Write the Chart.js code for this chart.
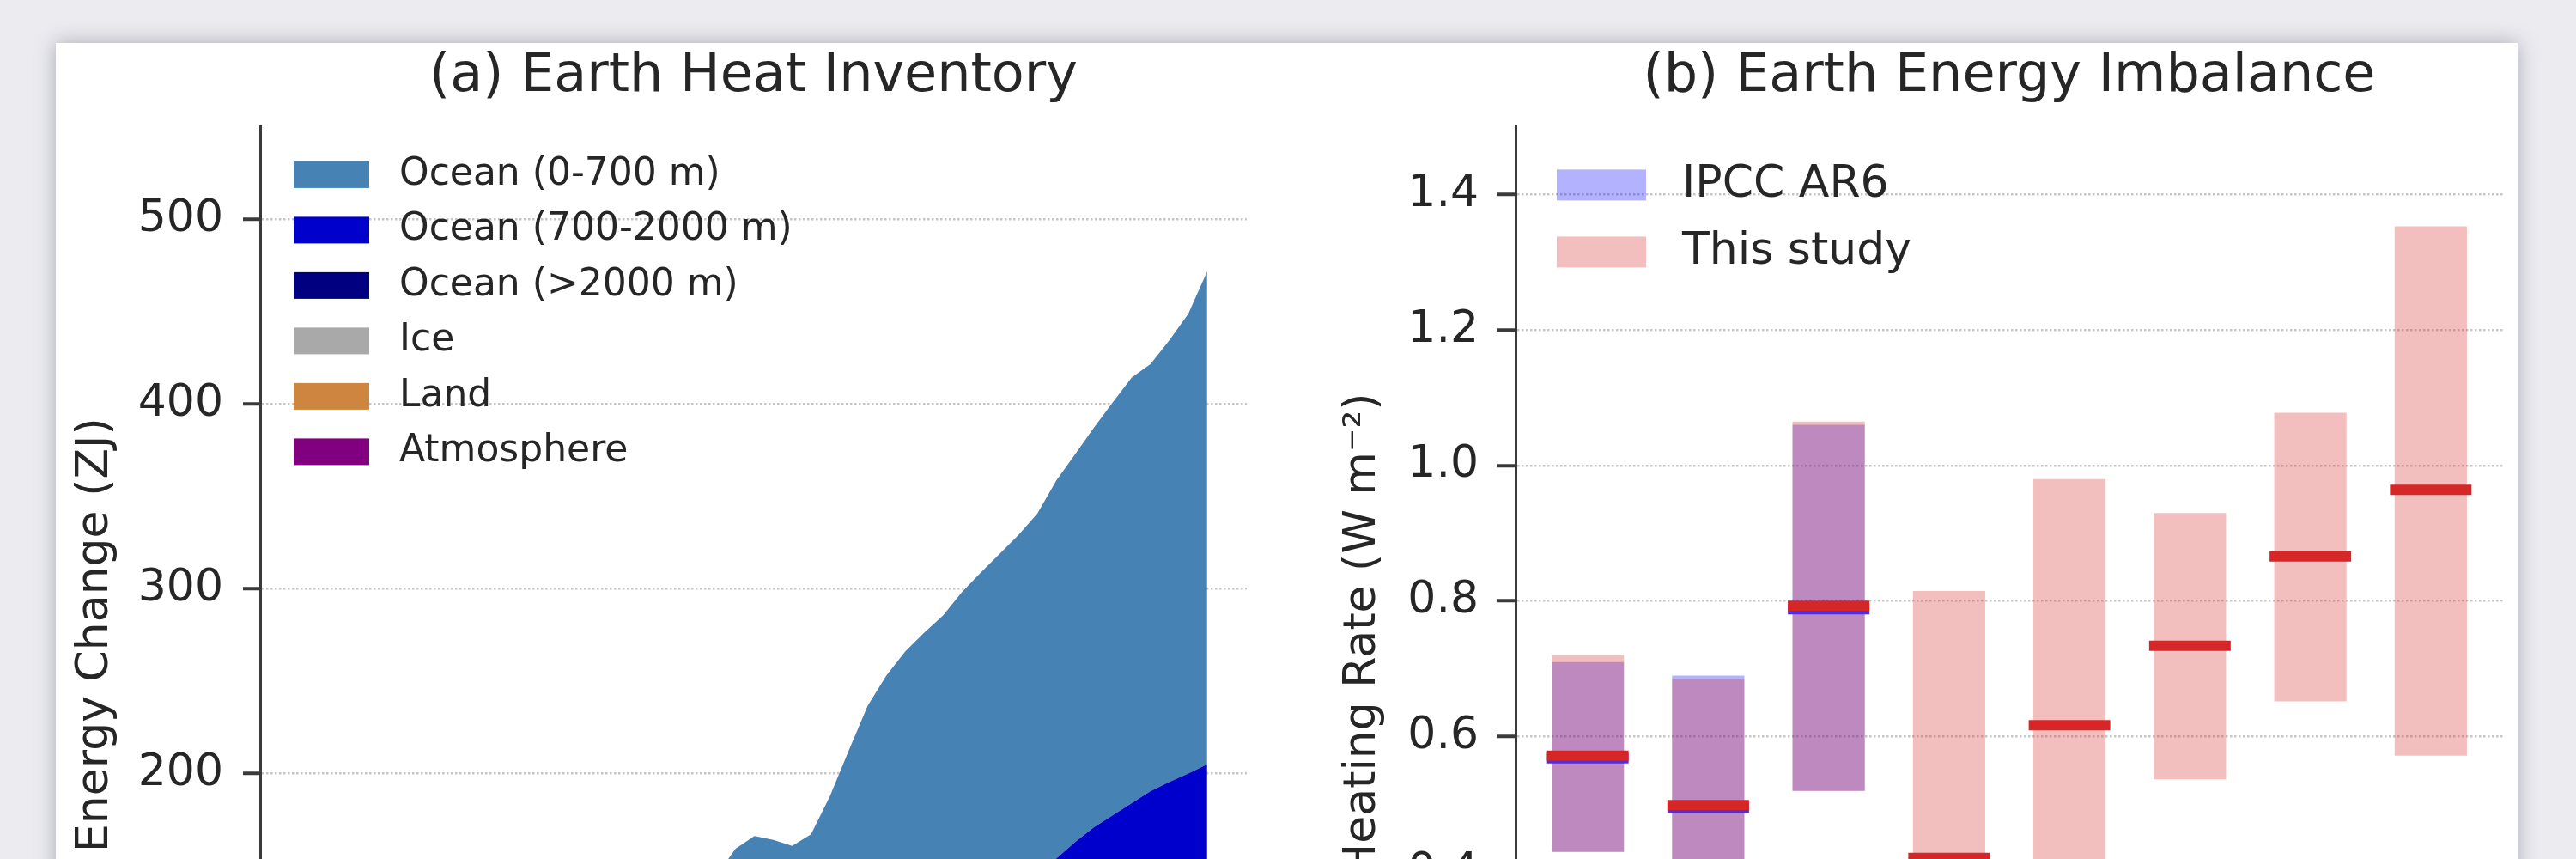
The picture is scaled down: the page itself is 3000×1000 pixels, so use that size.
<!DOCTYPE html>
<html>
<head>
<meta charset="utf-8">
<script src="https://cdn.jsdelivr.net/npm/chart.js"></script>
<style>
  html, body { margin: 0; padding: 0; }
  body { width: 3000px; height: 1000px; overflow: hidden; background: #ebebf0; position: relative; }
  .card { position: absolute; left: 65px; top: 50px; width: 2867px; height: 1200px; background: #fff;
          box-shadow: 0 0 22px rgba(50, 50, 70, 0.35); }
  .panel { position: absolute; top: 0; }
  #left { left: 0; }
  #right { left: 1450px; }
</style>
</head>
<body>
<div class="card"></div>
<div class="panel" id="left"><canvas id="heatChart" width="1550" height="1400"></canvas></div>
<div class="panel" id="right"><canvas id="eeiChart" width="1550" height="1400"></canvas></div>
<script>
// ---- panel (a): heat inventory, ZJ per layer (stacked) ----
const years = [1971,1972,1973,1974,1975,1976,1977,1978,1979,1980,
               1981,1982,1983,1984,1985,1986,1987,1988,1989,1990,
               1991,1992,1993,1994,1995,1996,1997,1998,1999,2000,
               2001,2002,2003,2004,2005,2006,2007,2008,2009,2010,
               2011,2012,2013,2014,2015,2016,2017,2018,2019,2020]
const atmosphere = [0,0,0,0,1,1,1,1,1,1, 1,1,1,2,2,2,2,2,2,2, 2,2,3,3,3,3,3,3,3,3,
                    3,4,4,4,4,4,4,4,4,5, 5,5,5,5,5,5,5,6,6,6]
const land = [0,0,1,1,2,2,2,3,3,4, 4,5,5,5,6,6,7,7,8,8, 9,9,10,10,11,11,12,12,13,13,
              14,14,15,15,16,16,17,17,18,18, 19,19,20,20,21,21,22,22,23,24]
const ice = [0,0,1,1,1,1,2,2,2,2, 3,3,3,3,4,4,4,5,5,5, 6,6,6,7,7,7,8,8,8,9,
             9,9,10,10,10,11,11,12,12,13, 13,14,14,15,15,16,16,17,17,18]
const oceanDeep = [0,1,1,2,3,3,4,5,5,6, 7,7,8,9,10,10,11,12,12,13, 14,15,15,16,17,18,18,19,20,21,
                   21,22,23,24,24,25,26,27,28,28, 29,30,31,32,32,33,34,35,36,37]
const oceanMid = [0,1,1,2,2,3,4,5,8,9, 10,12,15,16,17,21,23,25,28,32, 33,37,40,42,45,49,52,56,59,62,
                  66,68,69,72,75,76,77,78,79,80, 81,86,93,99,104.5,109,113.5,115.5,118,120]
const oceanUpper = [0,3,5,9,11,14,17,20,22,25, 28,30,32,35,37,39,41,44,46,48, 51,55,60,67,76.4,78.2,71.2,62.9,64.2,79.7,
                    99.5,119.6,132.1,141.1,147.3,153.5,163.2,170.8,177.9,185.1,
                    193.7,204.5,209.8,216.2,223.4,230.3,231.1,239,248.8,266.6]

// ---- panel (b): energy imbalance ranges, W m-2 ----
const slots = [0,1,2,3,4,5,6,7]
const ipccLow = [0.43, 0.32, 0.52]
const ipccHigh = [0.71, 0.69, 1.06]
const ipccMid = [0.568, 0.495, 0.788]
const studyLow = [0.43, 0.32, 0.52, 0.03, 0.255, 0.537, 0.652, 0.572]
const studyHigh = [0.72, 0.685, 1.065, 0.815, 0.98, 0.93, 1.078, 1.353]
const studyMid = [0.572, 0.499, 0.793, 0.421, 0.617, 0.734, 0.866, 0.964]

Chart.defaults.font.family = '"DejaVu Sans", sans-serif'
Chart.defaults.color = '#262626'

// legend drawn inside the plot, matplotlib style
const boxLegend = {
  id: 'boxLegend',
  afterDraw(chart, args, opts) {
    const ctx = chart.ctx
    const area = chart.chartArea
    ctx.save()
    ctx.font = opts.fontSize + 'px "DejaVu Sans"'
    ctx.textBaseline = 'middle'
    ctx.textAlign = 'left'
    opts.order.forEach((di, row) => {
      const ds = chart.data.datasets[di]
      const x = area.left + opts.left
      const y = area.top + opts.top + row * opts.step
      ctx.fillStyle = ds.backgroundColor
      ctx.fillRect(x, y - opts.boxH / 2, opts.boxW, opts.boxH)
      ctx.fillStyle = '#262626'
      ctx.fillText(ds.label, x + opts.boxW + opts.gap, y)
    })
    ctx.restore()
  }
}

function gridY(width) {
  return {
    grid: { color: 'rgba(160,160,160,0.6)', lineWidth: 2.5, tickColor: '#3a3a3a', tickWidth: 4, tickLength: 20 },
    border: { display: true, color: '#3a3a3a', width: 3, dash: [2.5, 2.5] },
    afterFit: (s) => { s.width = width }
  }
}

function layer(label, values, color, fill) {
  return {
    label: label,
    data: years.map((yr, i) => ({ x: yr, y: values[i] })),
    backgroundColor: color,
    borderColor: color,
    borderWidth: 0,
    pointRadius: 0,
    tension: 0,
    fill: fill
  }
}

new Chart(document.getElementById('heatChart'), {
  type: 'line',
  data: {
    datasets: [
      layer('Atmosphere', atmosphere, '#800080', 'origin'),
      layer('Land', land, '#cd853f', '-1'),
      layer('Ice', ice, '#a9a9a9', '-1'),
      layer('Ocean (>2000 m)', oceanDeep, '#000080', '-1'),
      layer('Ocean (700-2000 m)', oceanMid, '#0000cd', '-1'),
      layer('Ocean (0-700 m)', oceanUpper, '#4682b4', '-1')
    ]
  },
  plugins: [boxLegend],
  options: {
    responsive: false,
    animation: false,
    events: [],
    layout: { padding: { left: 60, right: 98, top: 20, bottom: 69 } },
    plugins: {
      legend: { display: false },
      tooltip: { enabled: false },
      title: {
        display: true,
        text: '(a) Earth Heat Inventory',
        fullSize: false,
        color: '#262626',
        font: { size: 62, weight: 'normal' },
        padding: { top: 33, bottom: 20 }
      },
      boxLegend: { order: [5, 4, 3, 2, 1, 0], left: 39, top: 56, step: 64.5, boxW: 88, boxH: 31, gap: 35, fontSize: 44 }
    },
    scales: {
      x: { type: 'linear', min: 1969.8, max: 2022.1, display: false },
      y: {
        stacked: true,
        min: 0,
        max: 550,
        ticks: { stepSize: 100, includeBounds: false, padding: 23, font: { size: 52 } },
        title: { display: true, text: 'Energy Change (ZJ)', font: { size: 52 }, padding: { top: 20, bottom: 0 } },
        ...gridY(243)
      }
    }
  }
})

new Chart(document.getElementById('eeiChart'), {
  type: 'bar',
  data: {
    datasets: [
      {
        label: 'IPCC AR6',
        data: ipccLow.map((lo, i) => ({ x: slots[i], y: [lo, ipccHigh[i]] })),
        backgroundColor: 'rgba(0,0,255,0.3)',
        borderWidth: 0,
        grouped: false,
        order: 4
      },
      {
        label: 'This study',
        data: studyLow.map((lo, i) => ({ x: slots[i], y: [lo, studyHigh[i]] })),
        backgroundColor: 'rgba(214,39,40,0.3)',
        borderWidth: 0,
        grouped: false,
        order: 3
      },
      {
        type: 'line',
        label: 'IPCC AR6 central',
        data: ipccMid.map((v, i) => ({ x: slots[i], y: v })),
        showLine: false,
        pointStyle: 'line',
        pointRadius: 47.5,
        pointBorderWidth: 12,
        pointBorderColor: 'rgb(85,45,215)',
        order: 2
      },
      {
        type: 'line',
        label: 'This study central',
        data: studyMid.map((v, i) => ({ x: slots[i], y: v })),
        showLine: false,
        pointStyle: 'line',
        pointRadius: 47.5,
        pointBorderWidth: 12,
        pointBorderColor: 'rgb(214,39,40)',
        order: 1
      }
    ]
  },
  plugins: [boxLegend],
  options: {
    responsive: false,
    animation: false,
    events: [],
    categoryPercentage: 1,
    barPercentage: 0.6,
    layout: { padding: { left: 60, right: 85, top: 20, bottom: 69 } },
    plugins: {
      legend: { display: false },
      tooltip: { enabled: false },
      title: {
        display: true,
        text: '(b) Earth Energy Imbalance',
        fullSize: false,
        color: '#262626',
        font: { size: 62, weight: 'normal' },
        padding: { top: 33, bottom: 20 }
      },
      boxLegend: { order: [0, 1], left: 48, top: 68, step: 78, boxW: 104, boxH: 36, gap: 42, fontSize: 52 }
    },
    scales: {
      x: { type: 'linear', min: -0.6, max: 7.6, offset: false, display: false,
           ticks: { stepSize: 1, includeBounds: false } },
      y: {
        min: 0,
        max: 1.5,
        ticks: { stepSize: 0.2, includeBounds: false, padding: 21, font: { size: 52 },
                 callback: (v) => v.toFixed(1) },
        title: { display: true, text: 'Heating Rate (W m\u207B\u00B2)', font: { size: 52 }, padding: { top: 46, bottom: 0 } },
        ...gridY(255),
        grid: { color: 'rgba(160,160,160,0.6)', lineWidth: 2.5, tickColor: '#3a3a3a', tickWidth: 4, tickLength: 22 }
      }
    }
  }
})
</script>
</body>
</html>
